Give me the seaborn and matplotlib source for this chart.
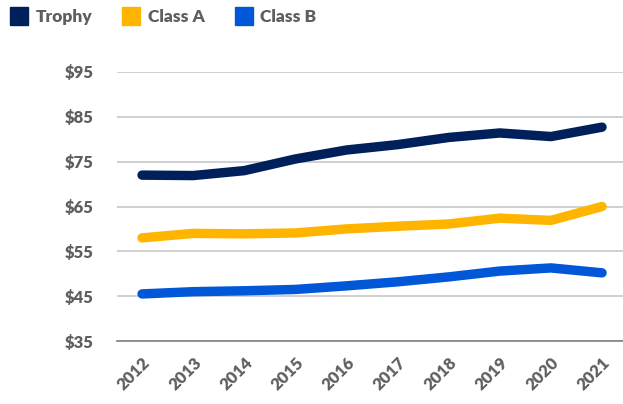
import matplotlib
matplotlib.use("Agg")
import matplotlib.pyplot as plt
from matplotlib.lines import Line2D
import seaborn as sns
import pandas as pd

years = ["2012", "2013", "2014", "2015", "2016", "2017", "2018", "2019", "2020", "2021"]
trophy = [72.0, 71.9, 73.0, 75.6, 77.6, 78.8, 80.4, 81.4, 80.6, 82.7]
class_a = [58.0, 59.0, 58.9, 59.1, 60.0, 60.6, 61.1, 62.4, 61.9, 65.0]
class_b = [45.5, 46.0, 46.2, 46.5, 47.3, 48.2, 49.3, 50.6, 51.3, 50.2]
series_names = ["Trophy", "Class A", "Class B"]
y_ticks = [35, 45, 55, 65, 75, 85, 95]

colors = {"Trophy": "#00205B", "Class A": "#FFB500", "Class B": "#0058D8"}

rows = []
for name, vals in zip(series_names, [trophy, class_a, class_b]):
    for i, (yr, v) in enumerate(zip(years, vals)):
        rows.append({"idx": i, "year": yr, "value": v, "series": name})
df = pd.DataFrame(rows)

sns.set_theme(style="white")
plt.rcParams["font.family"] = ["Lato", "DejaVu Sans"]

fig = plt.figure(figsize=(6.23, 4.04), dpi=100)
ax = fig.add_axes([117 / 623, 1 - 341 / 404, 1 - 117 / 623, (341 - 72) / 404])

sns.lineplot(data=df, x="idx", y="value", hue="series", palette=colors,
             hue_order=series_names, linewidth=6.8, ax=ax, legend=False,
             solid_capstyle="round", solid_joinstyle="round")

ax.set_ylim(35, 95)
ax.set_xlim(-0.49, 9.41)
ax.set_yticks(y_ticks)
ax.set_yticklabels([f"${v}" for v in y_ticks], fontsize=12, fontweight="heavy", color="#5F5F5F")
ax.set_xticks(range(len(years)))
ax.set_xticklabels(years, rotation=45, ha="right", rotation_mode="anchor",
                   fontsize=12, fontweight="heavy", color="#5F5F5F")
ax.tick_params(axis="y", length=0, pad=17)
ax.tick_params(axis="x", length=0, pad=10)
ax.set_xlabel("")
ax.set_ylabel("")
ax.grid(axis="y", color="#C8C8C8", linewidth=1.2)
ax.set_axisbelow(True)
for s in ["top", "right", "left"]:
    ax.spines[s].set_visible(False)
ax.spines["bottom"].set_color("#808080")
ax.spines["bottom"].set_linewidth(1.2)

handles = [Line2D([0], [0], marker="s", linestyle="", markersize=13,
                  markerfacecolor=colors[n], markeredgecolor=colors[n]) for n in series_names]
leg = fig.legend(handles, series_names, loc="upper left", bbox_to_anchor=(0.008, 0.99),
                 ncol=3, frameon=False, handletextpad=0.45, columnspacing=1.75,
                 handlelength=1.0, borderaxespad=0.0, borderpad=0.3,
                 prop={"size": 12.5, "weight": "heavy"})
for t in leg.get_texts():
    t.set_color("#5F5F5F")

fig.savefig("out.png", dpi=100)
